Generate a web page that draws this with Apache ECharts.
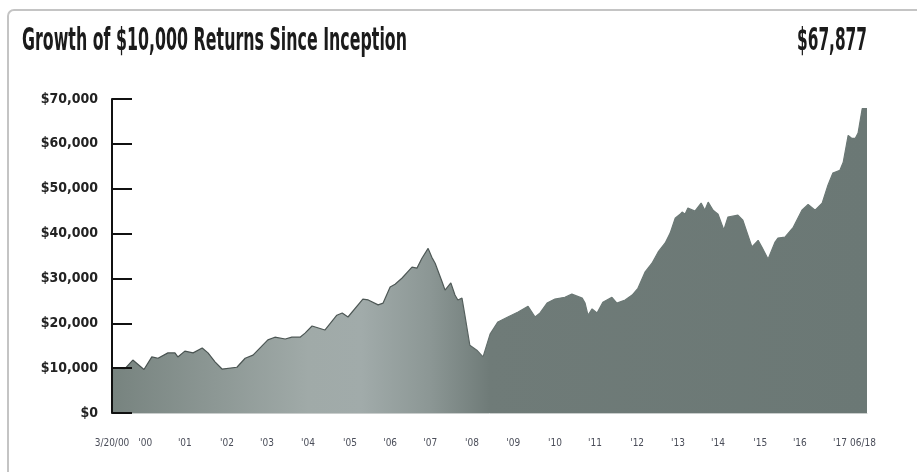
<!DOCTYPE html>
<html>
<head>
<meta charset="utf-8">
<script src="https://cdn.jsdelivr.net/npm/echarts@6/dist/echarts.min.js"></script>
<style>
  html, body { margin: 0; padding: 0; background: #ffffff; }
  #chart { width: 917px; height: 472px; }
</style>
</head>
<body>
<div id="chart"></div>
<script>
// Growth of a $10,000 investment, 3/20/2000 through 06/2018 (x = decimal year)
const years = [
  2000.216, 2000.53, 2000.72, 2000.99, 2001.18, 2001.33, 2001.57, 2001.74, 2001.81, 2001.98,
  2002.18, 2002.40, 2002.54, 2002.71, 2002.88, 2003.24, 2003.44, 2003.63, 2003.99, 2004.16,
  2004.41, 2004.57, 2004.77, 2004.89, 2005.06, 2005.37, 2005.66, 2005.79, 2005.93, 2006.29,
  2006.42, 2006.66, 2006.78, 2006.95, 2007.07, 2007.24, 2007.48, 2007.60, 2007.72, 2007.87,
  2007.96, 2008.04, 2008.21, 2008.28, 2008.42, 2008.52, 2008.59, 2008.69, 2008.76, 2008.88,
  2009.05, 2009.20, 2009.37, 2009.56, 2009.80, 2010.05, 2010.29, 2010.46, 2010.58, 2010.75,
  2010.94, 2011.18, 2011.35, 2011.60, 2011.67, 2011.74, 2011.84, 2011.96, 2012.10, 2012.32,
  2012.44, 2012.64, 2012.81, 2012.95, 2013.12, 2013.29, 2013.44, 2013.61, 2013.73, 2013.85,
  2013.97, 2014.02, 2014.09, 2014.16, 2014.33, 2014.48, 2014.57, 2014.65, 2014.77, 2014.89,
  2015.03, 2015.13, 2015.37, 2015.49, 2015.71, 2015.86, 2015.95, 2016.10, 2016.27, 2016.34,
  2016.51, 2016.71, 2016.92, 2017.07, 2017.24, 2017.41, 2017.55, 2017.67, 2017.84, 2017.92,
  2018.04, 2018.13, 2018.21, 2018.28, 2018.38, 2018.496
];
const values = [
  10000, 9900, 11800, 9700, 12500, 12200, 13400, 13400, 12500, 13800,
  13400, 14500, 13400, 11400, 9800, 10200, 12200, 12900, 16300, 16900,
  16500, 16900, 16900, 17800, 19400, 18500, 21800, 22300, 21400, 25400,
  25200, 24100, 24500, 28100, 28700, 30100, 32500, 32300, 34500, 36700,
  34700, 33400, 29200, 27400, 29000, 26300, 25200, 25600, 21800, 15100,
  14000, 12500, 17600, 20300, 21400, 22500, 23800, 21400, 22300, 24500,
  25400, 25800, 26500, 25600, 24500, 21800, 23200, 22300, 24700, 25800,
  24500, 25200, 26300, 27800, 31400, 33400, 35900, 37900, 40100, 43400,
  44300, 44800, 44300, 45700, 45000, 46800, 45200, 47000, 45200, 44300,
  40800, 43700, 44100, 43000, 37000, 38500, 37000, 34300, 38100, 39000,
  39200, 41400, 45200, 46500, 45200, 46800, 50800, 53500, 54100, 55900,
  61900, 61200, 61200, 62400, 67877, 67877
];

// Year markers along the bottom axis
const tickYears = [2000.216, 2001.02, 2001.98, 2003.00, 2003.97, 2004.96, 2005.98, 2006.95, 2007.92, 2008.93,
                   2009.93, 2010.94, 2011.91, 2012.93, 2013.92, 2014.89, 2015.91, 2016.87, 2017.84, 2018.40];
const tickLabels = ["3/20/00", "'00", "'01", "'02", "'03", "'04", "'05", "'06", "'07", "'08",
                    "'09", "'10", "'11", "'12", "'13", "'14", "'15", "'16", "'17", "06/18"];

const titleText = 'Growth of $10,000 Returns Since Inception';
const endingValue = '$67,877';

const NARROW = "'Liberation Sans Narrow', 'DejaVu Sans Condensed', 'Arial Narrow', sans-serif";
const HEAD = "'DejaVu Sans Condensed', 'Liberation Sans Narrow', sans-serif";

// horizontal squeeze so heading text spans a given width
function squeeze(text, font, width) {
  const ctx = document.createElement('canvas').getContext('2d');
  ctx.font = font;
  return width / ctx.measureText(text).width;
}
const titleFont = "bold 32px " + HEAD;

const chart = echarts.init(document.getElementById('chart'), null, { renderer: 'canvas' });

const fill = new echarts.graphic.LinearGradient(0, 0, 1, 0, [
  { offset: 0.00, color: '#77837f' },
  { offset: 0.26, color: '#a0aaa8' },
  { offset: 0.33, color: '#a1abaa' },
  { offset: 0.42, color: '#8c9795' },
  { offset: 0.50, color: '#6f7b78' },
  { offset: 1.00, color: '#6b7875' }
]);
const edge = new echarts.graphic.LinearGradient(0, 0, 1, 0, [
  { offset: 0.00, color: '#47514f' },
  { offset: 0.45, color: '#4f5957' },
  { offset: 0.52, color: '#6b7875' },
  { offset: 1.00, color: '#6b7875' }
]);

chart.setOption({
  backgroundColor: '#ffffff',
  animation: false,
  grid: { left: 112, right: 50, top: 99, bottom: 59, containLabel: false },
  xAxis: {
    type: 'value',
    min: 2000.216,
    max: 2018.496,
    axisLine: { show: true, lineStyle: { color: '#c9cdcc', width: 1 } },
    axisTick: { show: false },
    splitLine: { show: false },
    axisLabel: {
      customValues: tickYears,
      margin: 25,
      fontSize: 10,
      fontFamily: NARROW,
      color: '#4b4e5a',
      formatter: function (v) {
        let best = 0;
        for (let i = 1; i < tickYears.length; i++) {
          if (Math.abs(tickYears[i] - v) < Math.abs(tickYears[best] - v)) best = i;
        }
        return tickLabels[best];
      }
    }
  },
  yAxis: {
    type: 'value',
    min: 0,
    max: 70000,
    interval: 10000,
    z: 5,
    axisLine: { show: true, lineStyle: { color: '#111111', width: 2 } },
    axisTick: { show: true, inside: true, length: 20, lineStyle: { color: '#111111', width: 2 } },
    splitLine: { show: false },
    axisLabel: {
      margin: 14,
      fontSize: 14,
      fontWeight: 'bold',
      fontFamily: NARROW,
      color: '#222222',
      formatter: function (v) { return '$' + v.toLocaleString('en-US'); }
    }
  },
  series: [{
    type: 'line',
    data: years.map((y, i) => [y, values[i]]),
    symbol: 'none',
    smooth: false,
    silent: true,
    z: 2,
    lineStyle: { width: 1.2, color: edge },
    areaStyle: { color: fill, opacity: 1 }
  }],
  graphic: [
    {
      type: 'rect',
      shape: { x: 8, y: 10, width: 1000, height: 1000, r: 6 },
      style: { fill: 'none', stroke: '#c4c4c4', lineWidth: 2 },
      silent: true,
      z: 0
    },
    {
      type: 'text',
      x: 22, y: 42,
      scaleX: squeeze(titleText, titleFont, 385),
      style: { text: titleText, font: titleFont, fill: '#1b1b1b', textAlign: 'left', textVerticalAlign: 'middle' },
      silent: true
    },
    {
      type: 'text',
      x: 867, y: 42,
      scaleX: squeeze(endingValue, titleFont, 70),
      style: { text: endingValue, font: titleFont, fill: '#1b1b1b', textAlign: 'right', textVerticalAlign: 'middle' },
      silent: true
    }
  ]
});
</script>
</body>
</html>
